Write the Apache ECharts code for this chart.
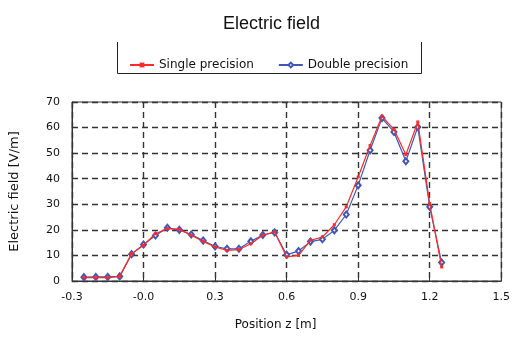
<!DOCTYPE html>
<html>
<head>
<meta charset="utf-8">
<script src="https://cdn.jsdelivr.net/npm/echarts@6/dist/echarts.min.js"></script>
<style>
  html, body { margin: 0; padding: 0; background: #fff; }
  #chart { width: 513px; height: 342px; }
</style>
</head>
<body>
<div id="chart"></div>
<script>
// positions along z [m]
const positions = [-0.25, -0.2, -0.15, -0.1, -0.05, 0, 0.05, 0.1, 0.15, 0.2,
  0.25, 0.3, 0.35, 0.4, 0.45, 0.5, 0.55, 0.6, 0.65, 0.7,
  0.75, 0.8, 0.85, 0.9, 0.95, 1.0, 1.05, 1.1, 1.15, 1.2, 1.25];

// electric field [V/m]
const singlePrecision = [1.3, 1.3, 1.3, 1.8, 10.7, 14.0, 18.5, 20.5, 20.2, 17.9,
  15.5, 13.3, 12.0, 12.3, 14.6, 17.9, 19.2, 9.4, 10.0, 15.9,
  17.2, 22.0, 29.0, 40.7, 53.0, 64.4, 59.3, 49.4, 62.2, 30.3, 5.5];
const doublePrecision = [1.5, 1.6, 1.6, 1.8, 10.5, 14.3, 17.8, 20.8, 20.0, 18.2,
  15.8, 13.5, 12.6, 12.6, 15.5, 18.0, 19.0, 10.3, 11.7, 15.4,
  16.3, 19.8, 26.0, 37.4, 51.1, 63.7, 58.3, 46.8, 60.2, 29.0, 7.2];

const xTicks = { min: -0.3, max: 1.5, step: 0.3 };
const yTicks = { min: 0, max: 70, step: 10 };

const chart = echarts.init(document.getElementById('chart'));

const pair = (ys) => positions.map((x, i) => [x, ys[i]]);

const gridLine = {
  show: true,
  lineStyle: { color: '#333', width: 1.4, type: [6, 4] }
};

chart.setOption({
  animation: false,
  textStyle: { fontFamily: 'DejaVu Sans' },
  title: {
    text: 'Electric field',
    left: 218,
    top: 10,
    textStyle: { fontFamily: 'Liberation Sans', fontSize: 18, fontWeight: 'normal', color: '#111' }
  },
  legend: {
    data: ['Single precision', 'Double precision'],
    left: 124,
    top: 54,
    itemWidth: 24,
    itemHeight: 6,
    itemGap: 24,
    textStyle: { fontFamily: 'DejaVu Sans', fontSize: 12, color: '#111', padding: [0, 0, 0, 0] }
  },
  graphic: [{
    type: 'polyline',
    shape: { points: [[117.5, 42], [117.5, 73.5], [421.5, 73.5], [421.5, 42]] },
    style: { stroke: '#222', lineWidth: 1, fill: null }
  }],
  grid: {
    left: 72,
    right: 5,
    top: 102,
    bottom: 61,
    show: true,
    borderColor: '#333',
    borderWidth: 1
  },
  xAxis: {
    type: 'value',
    min: xTicks.min,
    max: xTicks.max,
    interval: xTicks.step,
    name: 'Position z [m]',
    nameLocation: 'middle',
    nameGap: 38,
    nameTextStyle: { fontSize: 12, color: '#111', padding: [0, 22, 0, 0] },
    axisLine: { onZero: false, lineStyle: { color: '#333' } },
    axisTick: { inside: true, length: 4, lineStyle: { color: '#333' } },
    axisLabel: {
      fontSize: 11,
      color: '#111',
      margin: 11,
      formatter: (v) => (Math.abs(v) < 1e-9 ? '-0.0' : v.toFixed(1))
    },
    splitLine: gridLine
  },
  yAxis: {
    type: 'value',
    min: yTicks.min,
    max: yTicks.max,
    interval: yTicks.step,
    name: 'Electric field [V/m]',
    nameLocation: 'middle',
    nameGap: 51,
    nameTextStyle: { fontSize: 13, color: '#111' },
    axisLine: { show: true, onZero: false, lineStyle: { color: '#333' } },
    axisTick: { show: true, inside: true, length: 4, lineStyle: { color: '#333' } },
    axisLabel: { fontSize: 11, color: '#111', margin: 12 },
    splitLine: gridLine
  },
  series: [
    {
      name: 'Double precision',
      type: 'line',
      data: pair(doublePrecision),
      symbol: 'emptyDiamond',
      symbolSize: [5, 6],
      color: '#4058b4',
      lineStyle: { color: '#4058b4', width: 1.2 },
      itemStyle: { color: '#4058b4', borderWidth: 1 },
      z: 2
    },
    {
      name: 'Single precision',
      type: 'line',
      data: pair(singlePrecision),
      symbol: 'rect',
      symbolSize: 3,
      color: '#ff2a2a',
      lineStyle: { color: '#ff2a2a', width: 1.2 },
      itemStyle: { color: '#ff2a2a' },
      z: 3
    }
  ]
});
</script>
</body>
</html>
